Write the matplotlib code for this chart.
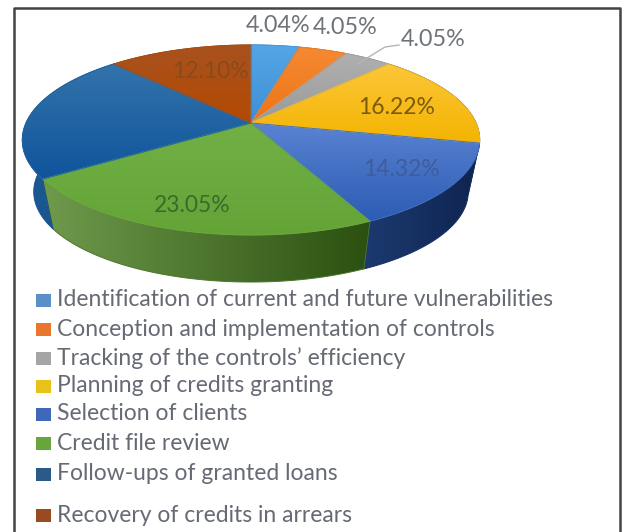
import numpy as np
import matplotlib
matplotlib.use("Agg")
import matplotlib.pyplot as plt
from matplotlib.patches import Polygon, Rectangle
from matplotlib.colors import to_rgb

# shares of each activity, in percent
categories = ["Identification of current and future vulnerabilities",
              "Conception and implementation of controls",
              "Tracking of the controls\u2019 efficiency",
              "Planning of credits granting",
              "Selection of clients",
              "Credit file review",
              "Follow-ups of granted loans",
              "Recovery of credits in arrears"]
values = [4.04, 4.05, 4.05, 16.22, 14.32, 23.05, 22.17, 12.10]
value_labels = ["4.04%", "4.05%", "4.05%", "16.22%", "14.32%", "23.05%", "", "12.10%"]

# top face gradient (far edge, near edge) and side gradient (left, right)
top_colors = [("#55a6e6", "#3d8fd6"), ("#f58a33", "#ee7414"), ("#b0b0b0", "#9a9a9a"),
              ("#fcc63a", "#f3b400"), ("#5a83d2", "#2c5cb4"), ("#72b045", "#64a437"),
              ("#3474ab", "#0f549c"), ("#a8521f", "#b34a02")]
side_colors = [("#2f6ea0", "#2f6ea0"), ("#b5561a", "#b5561a"), ("#777777", "#777777"),
               ("#0f2450", "#0f2450"), ("#1c3a70", "#0f2450"), ("#6f9a4c", "#2b5010"),
               ("#1d5a94", "#124a80"), ("#7d3a10", "#7d3a10")]
legend_colors = ["#5b8fc7", "#e8762d", "#a5a5a5", "#e8c21a", "#4068b8", "#68a53c", "#2c5a88", "#9a4a20"]
legend_y = [300, 329, 358, 386, 414, 443, 474, 515]
label_pos = [(278, 25), (345, 27), (433, 40), (397, 108), (401, 170), (192, 205), None, (210, 72)]
label_colors = ["#6f7378", "#6f7378", "#6f7378", "#7c5a0c", "#3f5c9c", "#3a6b2a", "#000000", "#8a4a1c"]
label_sizes = [16.8, 16.8, 16.8, 16.5, 16.5, 16.5, 0, 16.5]

# perspective of the disc on the page, in pixels
cx, cy = 251, 123
rx, ry, tilt = 225, 92, 0.179
side_scale, side_drop = 0.95, 52.6


def project(r, theta):
    # theta runs clockwise from the top of the disc
    x = r * np.sin(theta)
    y = r * np.cos(theta)
    w = 1 + tilt * y
    return rx * x / w, ry * y / w


def gradient_fill(ax, pts, c0, c1, z, horizontal=False):
    c0, c1 = np.array(to_rgb(c0)), np.array(to_rgb(c1))
    t = np.linspace(0, 1, 128)
    ramp = c0[None, :] * (1 - t[:, None]) + c1[None, :] * t[:, None]
    img = ramp[None, :, :] if horizontal else ramp[:, None, :]
    xmin, ymin = pts.min(axis=0)
    xmax, ymax = pts.max(axis=0)
    poly = Polygon(pts, closed=True, facecolor="none", edgecolor=(c0 + c1) / 2, lw=0.7, zorder=z + 0.1)
    ax.add_patch(poly)
    im = ax.imshow(img, extent=(xmin, xmax, ymax, ymin), aspect="auto", zorder=z, interpolation="bilinear")
    im.set_clip_path(poly)


fig = plt.figure(figsize=(6.22, 5.32), dpi=100, facecolor="white")
ax = fig.add_axes([0, 0, 1, 1])

edges = np.cumsum([0] + values) / sum(values) * 2 * np.pi

# side wall first, the top face covers whatever is behind it
for i in range(len(values)):
    th = np.linspace(edges[i], edges[i + 1], 60)
    X, Y = project(1, th)
    upper = np.column_stack([cx + X, cy - Y])
    lower = np.column_stack([cx + X * side_scale, cy - (Y * side_scale - side_drop)])
    gradient_fill(ax, np.vstack([upper, lower[::-1]]), side_colors[i][0], side_colors[i][1], 2, horizontal=True)

for i in range(len(values)):
    th = np.linspace(edges[i], edges[i + 1], 60)
    X, Y = project(1, th)
    pts = np.vstack([[cx, cy], np.column_stack([cx + X, cy - Y])])
    gradient_fill(ax, pts, top_colors[i][0], top_colors[i][1], 3)

for i, lab in enumerate(value_labels):
    if lab:
        ax.text(label_pos[i][0], label_pos[i][1], lab, ha="center", va="center",
                fontsize=label_sizes[i], family="Lato", color=label_colors[i], zorder=5)

# leader line for the grey slice
mid = (edges[2] + edges[3]) / 2
lx, ly = project(0.9, mid)
ax.plot([cx + lx, 385, 399], [cy - ly, 47, 45], color="#b5b5b5", lw=1, zorder=5)

# legend
for name, col, y in zip(categories, legend_colors, legend_y):
    ax.add_patch(Rectangle((36, y - 6.5), 15, 13, facecolor=col, edgecolor="none", zorder=4))
    ax.text(57, y, name, ha="left", va="center", fontsize=16.5, family="Lato", color="#666a74", zorder=5)

# outer frame, it runs off the bottom
ax.plot([14, 14, 620, 620], [532, 8, 8, 532], color="#444444", lw=1.8, zorder=6)

ax.set_xlim(0, 622)
ax.set_ylim(532, 0)
ax.axis("off")

fig.savefig("out.png", dpi=100)
